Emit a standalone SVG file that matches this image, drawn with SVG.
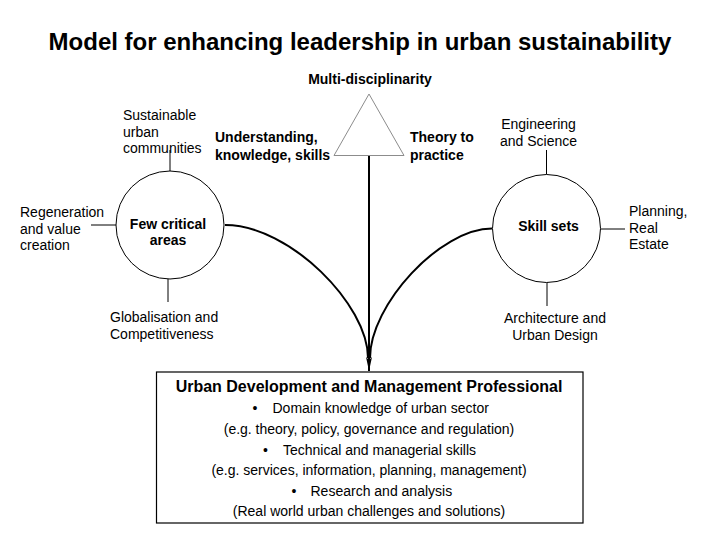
<svg xmlns="http://www.w3.org/2000/svg" width="720" height="540" viewBox="0 0 720 540">
<defs>
<marker id="arr" markerWidth="14" markerHeight="6" refX="14" refY="3" orient="auto" markerUnits="userSpaceOnUse" viewBox="0 0 14 6">
<path d="M0,0 L14,3 L0,6 L3,3 Z" fill="#000"/>
</marker>
<style>
text{font-family:"Liberation Sans",Arial,sans-serif;fill:#000}
.t{font-size:14px}
.b{font-size:14px;font-weight:bold}
.m{text-anchor:middle}
.tick{stroke:#000;stroke-width:1;fill:none}
.circ{stroke:#000;stroke-width:1;fill:#fff}
.conn{stroke:#000;stroke-width:2;fill:none}
</style>
</defs>
<rect width="720" height="540" fill="#fff"/>
<text x="360" y="50" class="m" style="font-size:24px;font-weight:bold">Model for enhancing leadership in urban sustainability</text>

<g id="connectors">
<path class="conn" d="M225,225 C290,225 368,305 368,358"/>
<path class="conn" d="M492,228.5 C440,228.5 370,305 370,358"/>
<path class="conn" d="M369,156 L369,371" marker-end="url(#arr)"/>
</g>

<g id="triangle">
<polygon points="369,94 334,155.5 404,155.5" fill="#fff" stroke="#8c8c8c" stroke-width="1"/>
<text x="370" y="84" class="b m">Multi-disciplinarity</text>
<text x="215" y="142" class="b">Understanding,</text>
<text x="215" y="160" class="b">knowledge, skills</text>
<text x="410" y="142" class="b">Theory to</text>
<text x="410" y="160" class="b">practice</text>
</g>

<g id="left-circle">
<line class="tick" x1="170" y1="150" x2="170" y2="171"/>
<line class="tick" x1="91" y1="225" x2="116" y2="225"/>
<line class="tick" x1="168" y1="279" x2="168" y2="302"/>
<circle class="circ" cx="170" cy="225" r="54"/>
<text x="168" y="228.5" class="b m">Few critical</text>
<text x="168" y="245" class="b m">areas</text>
<text x="123" y="120" class="t">Sustainable</text>
<text x="123" y="136.5" class="t">urban</text>
<text x="123" y="153" class="t">communities</text>
<text x="20" y="217" class="t">Regeneration</text>
<text x="20" y="233.5" class="t">and value</text>
<text x="20" y="250" class="t">creation</text>
<text x="110" y="322" class="t">Globalisation and</text>
<text x="110" y="338.5" class="t">Competitiveness</text>
</g>

<g id="right-circle">
<line class="tick" x1="546.5" y1="150" x2="546.5" y2="174.5"/>
<line class="tick" x1="600.5" y1="229" x2="625" y2="229"/>
<line class="tick" x1="547" y1="282.5" x2="547" y2="306"/>
<circle class="circ" cx="546.5" cy="228.5" r="54"/>
<text x="548.5" y="231" class="b m">Skill sets</text>
<text x="538.5" y="128.5" class="t m">Engineering</text>
<text x="538.5" y="145.5" class="t m">and Science</text>
<text x="629" y="216" class="t">Planning,</text>
<text x="629" y="232.7" class="t">Real</text>
<text x="629" y="249.4" class="t">Estate</text>
<text x="555" y="322.7" class="t m">Architecture and</text>
<text x="555" y="339.5" class="t m">Urban Design</text>
</g>

<g id="professional-box">
<rect x="156.5" y="372" width="426.5" height="151" fill="#fff" stroke="#000" stroke-width="1.2"/>
<text x="369" y="392" class="m" style="font-size:16px;font-weight:bold">Urban Development and Management Professional</text>
<text x="252.5" y="413" class="t">•</text>
<text x="272.5" y="413" class="t">Domain knowledge of urban sector</text>
<text x="369" y="434" class="t m">(e.g. theory, policy, governance and regulation)</text>
<text x="263" y="454.5" class="t">•</text>
<text x="283" y="454.5" class="t">Technical and managerial skills</text>
<text x="369" y="475" class="t m">(e.g. services, information, planning, management)</text>
<text x="291.5" y="495.5" class="t">•</text>
<text x="310.5" y="495.5" class="t">Research and analysis</text>
<text x="369" y="516" class="t m">(Real world urban challenges and solutions)</text>
</g>
</svg>
